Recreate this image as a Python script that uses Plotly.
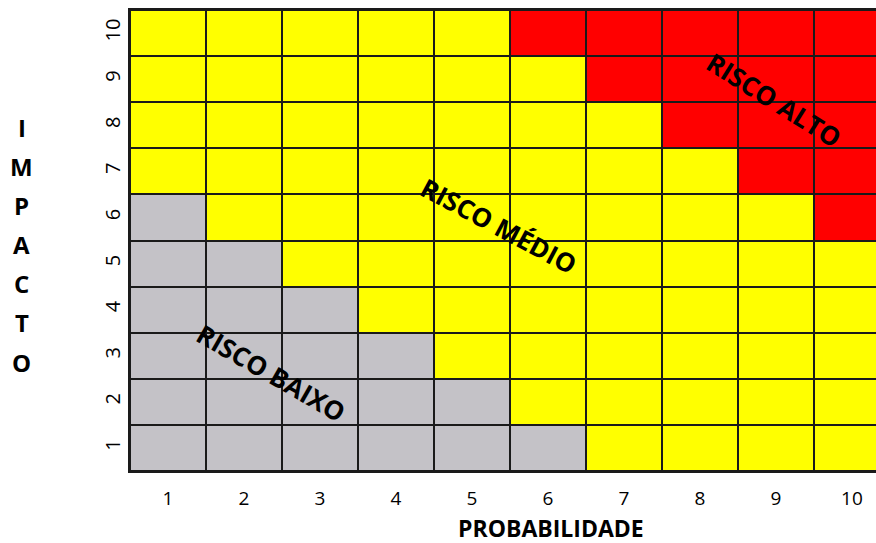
import plotly.graph_objects as go

probabilidade = [1, 2, 3, 4, 5, 6, 7, 8, 9, 10]
impacto = [1, 2, 3, 4, 5, 6, 7, 8, 9, 10]
# risk level per cell: 0 = baixo (gray), 1 = médio (yellow), 2 = alto (red); rows = impacto 1..10
risco = [
    [0, 0, 0, 0, 0, 0, 1, 1, 1, 1],
    [0, 0, 0, 0, 0, 1, 1, 1, 1, 1],
    [0, 0, 0, 0, 1, 1, 1, 1, 1, 1],
    [0, 0, 0, 1, 1, 1, 1, 1, 1, 1],
    [0, 0, 1, 1, 1, 1, 1, 1, 1, 1],
    [0, 1, 1, 1, 1, 1, 1, 1, 1, 2],
    [1, 1, 1, 1, 1, 1, 1, 1, 2, 2],
    [1, 1, 1, 1, 1, 1, 1, 2, 2, 2],
    [1, 1, 1, 1, 1, 1, 2, 2, 2, 2],
    [1, 1, 1, 1, 1, 2, 2, 2, 2, 2],
]
zone_labels = ["RISCO BAIXO", "RISCO MÉDIO", "RISCO ALTO"]
zone_x = [2.36, 5.36, 8.98]
zone_y = [2.62, 5.82, 8.55]
zone_angle = [30, 28, 32]
y_title = "IMPACTO"
x_title = "PROBABILIDADE"

GRAY, YELLOW, RED = "#C4C2C7", "#FFFF00", "#FF0000"
colorscale = [[0, GRAY], [0.3333, GRAY], [0.3333, YELLOW], [0.6667, YELLOW],
              [0.6667, RED], [1, RED]]

fig = go.Figure(go.Heatmap(
    x=probabilidade, y=impacto, z=risco, zmin=0, zmax=2,
    colorscale=colorscale, showscale=False, xgap=2, ygap=2,
    hoverinfo="skip",
))

font_main = "Open Sans, Liberation Sans, sans-serif"

for lab, x, y, a in zip(zone_labels, zone_x, zone_y, zone_angle):
    fig.add_annotation(x=x, y=y, text=f"<b>{lab}</b>", showarrow=False,
                       textangle=a, font=dict(family=font_main, size=26, color="black"))

for i, ch in enumerate(y_title):
    fig.add_annotation(xref="paper", yref="paper", x=(22 - 130) / 746, xanchor="center",
                       y=(471 - (127 + i * 39.2)) / 461, yanchor="middle",
                       text=f"<b>{ch}</b>", showarrow=False,
                       font=dict(family=font_main, size=24, color="black"))

fig.add_annotation(xref="paper", yref="paper", x=(551 - 130) / 746, xanchor="center",
                   y=(471 - 528) / 461, yanchor="middle",
                   text=f"<b>{x_title}</b>", showarrow=False,
                   font=dict(family=font_main, size=23, color="black"))

fig.update_layout(
    width=876, height=543,
    margin=dict(l=130, r=0, t=10, b=72),
    plot_bgcolor="#1a1a1a", paper_bgcolor="white",
    xaxis=dict(range=[0.5, 10.316], tickvals=probabilidade, ticks="", showgrid=False,
               zeroline=False, showline=True, linecolor="#1a1a1a", linewidth=2, mirror=True,
               ticklabelstandoff=9,
               tickfont=dict(family=font_main, size=19, color="black")),
    yaxis=dict(range=[0.5, 10.5], tickvals=impacto, ticks="", showgrid=False,
               zeroline=False, showline=True, linecolor="#1a1a1a", linewidth=2, mirror=False,
               tickangle=-90, ticklabelstandoff=0,
               tickfont=dict(family=font_main, size=20, color="black")),
)

fig.write_html("out.html", config={"displayModeBar": False},
               post_script="document.body.style.margin='0';document.body.style.overflow='hidden';")
